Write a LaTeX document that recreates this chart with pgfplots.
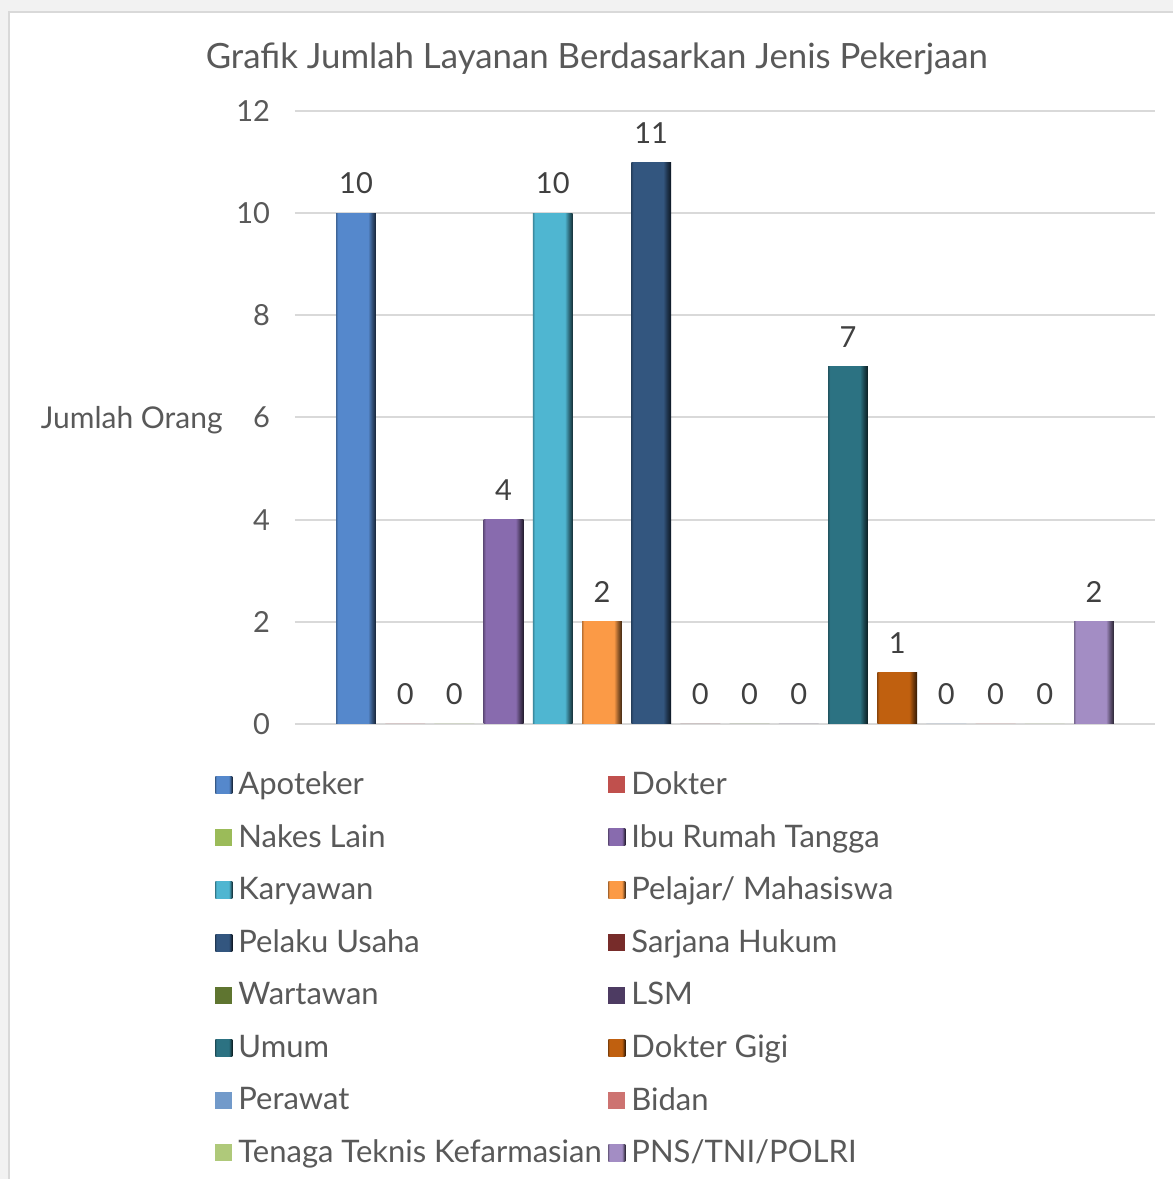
\documentclass[border=0pt]{standalone}
\usepackage{pgfplots}
\pgfplotsset{compat=1.18}
\usepackage{fontspec}
\setmainfont{Lato}
\definecolor{txt}{HTML}{595959}
\definecolor{lab}{HTML}{404040}
\definecolor{cApo}{HTML}{5588CC}
\definecolor{cDok}{HTML}{C0504D}
\definecolor{cNak}{HTML}{9BBB59}
\definecolor{cIbu}{HTML}{886BAE}
\definecolor{cKar}{HTML}{4FB6D1}
\definecolor{cPel}{HTML}{FB9A46}
\definecolor{cUsa}{HTML}{33567F}
\definecolor{cSar}{HTML}{772C2A}
\definecolor{cWar}{HTML}{5F7530}
\definecolor{cLSM}{HTML}{4D3B62}
\definecolor{cUmu}{HTML}{2C7282}
\definecolor{cGig}{HTML}{C0600F}
\definecolor{cPer}{HTML}{729ACA}
\definecolor{cBid}{HTML}{CD7371}
\definecolor{cTTK}{HTML}{AFC97A}
\definecolor{cPNS}{HTML}{A38DC4}
\newcommand\mkshade[2]{\pgfdeclarehorizontalshading{#1}{100bp}{color(0bp)=(#2!75!black); color(25bp)=(#2!75!black); color(27.5bp)=(#2); color(65bp)=(#2); color(70bp)=(#2!60!black); color(75bp)=(#2!25!black); color(100bp)=(#2!25!black)}}
\mkshade{sApo}{cApo}
\mkshade{sIbu}{cIbu}
\mkshade{sKar}{cKar}
\mkshade{sPel}{cPel}
\mkshade{sUsa}{cUsa}
\mkshade{sUmu}{cUmu}
\mkshade{sGig}{cGig}
\mkshade{sPNS}{cPNS}
\pgfplotsset{
  sbar/.style={shade, shading=#1, draw=none,
    legend image code/.code={\path[##1] (0pt,-4.25pt) rectangle (8.5pt,4.25pt);}},
  fbar/.style={fill=#1, draw=none,
    legend image code/.code={\path[##1] (0pt,-4.25pt) rectangle (8.5pt,4.25pt);}},
}
\newcommand\lc[1]{\makebox[182pt][l]{#1}}
\begin{document}
\begin{tikzpicture}
\useasboundingbox (0,0) rectangle (586.5pt,589.5pt);
\fill[black!5] (0,0) rectangle (586.5pt,589.5pt);
\filldraw[fill=white, draw=black!15, line width=1pt] (4.5pt,-5pt) rectangle (600pt,583.5pt);
\begin{axis}[
  at={(147.5pt,227.5pt)}, anchor=south west,
  scale only axis, width=430pt, height=306.5pt,
  ybar, bar width=0.81, bar shift=0pt,
  xmin=-1.24, xmax=16.24, ymin=0, ymax=12,
  axis x line*=bottom, axis y line*=left,
  axis line style={draw=none},
  xtick=\empty,
  ytick={0,2,...,12},
  major tick length=0pt,
  ymajorgrids, grid style={draw=black!15, line width=1pt},
  /pgf/number format/assume math mode=true,
  yticklabel style={font=\fontsize{14.5}{16}\selectfont, text=txt, anchor=east, xshift=-9pt},
  ylabel={Jumlah Orang},
  ylabel style={font=\fontsize{15}{18}\selectfont, text=txt, rotate=-90, anchor=east, at={(axis description cs:-0.076,0.496)}},
  title={Grafik Jumlah Layanan Berdasarkan Jenis Pekerjaan},
  title style={font=\fontsize{17.4}{21}\selectfont, text=txt, anchor=center, at={(axis description cs:0.351,1.065)}},
  nodes near coords,
  every node near coord/.append style={font=\fontsize{14.5}{16}\selectfont, text=lab, anchor=south, yshift=6pt},
  legend columns=2,
  legend style={draw=none, fill=none, font=\fontsize{15.5}{18}\selectfont, text=txt,
    at={(axis description cs:-0.1,-0.049)}, anchor=north west,
    row sep=0pt, column sep=3pt,
    nodes={inner sep=0pt, anchor=west, minimum height=26.3pt}},
  legend cell align=left,
]
\addplot[sbar=sApo] coordinates {(0,10)};
\addlegendentry{\lc{Apoteker}}
\addplot[fbar=cDok] coordinates {(1,0)};
\addlegendentry{Dokter}
\addplot[fbar=cNak] coordinates {(2,0)};
\addlegendentry{\lc{Nakes Lain}}
\addplot[sbar=sIbu] coordinates {(3,4)};
\addlegendentry{Ibu Rumah Tangga}
\addplot[sbar=sKar] coordinates {(4,10)};
\addlegendentry{\lc{Karyawan}}
\addplot[sbar=sPel] coordinates {(5,2)};
\addlegendentry{Pelajar/ Mahasiswa}
\addplot[sbar=sUsa] coordinates {(6,11)};
\addlegendentry{\lc{Pelaku Usaha}}
\addplot[fbar=cSar] coordinates {(7,0)};
\addlegendentry{Sarjana Hukum}
\addplot[fbar=cWar] coordinates {(8,0)};
\addlegendentry{\lc{Wartawan}}
\addplot[fbar=cLSM] coordinates {(9,0)};
\addlegendentry{LSM}
\addplot[sbar=sUmu] coordinates {(10,7)};
\addlegendentry{\lc{Umum}}
\addplot[sbar=sGig] coordinates {(11,1)};
\addlegendentry{Dokter Gigi}
\addplot[fbar=cPer] coordinates {(12,0)};
\addlegendentry{\lc{Perawat}}
\addplot[fbar=cBid] coordinates {(13,0)};
\addlegendentry{Bidan}
\addplot[fbar=cTTK] coordinates {(14,0)};
\addlegendentry{\lc{Tenaga Teknis Kefarmasian}}
\addplot[sbar=sPNS] coordinates {(15,2)};
\addlegendentry{PNS/TNI/POLRI}
\end{axis}
\end{tikzpicture}
\end{document}
